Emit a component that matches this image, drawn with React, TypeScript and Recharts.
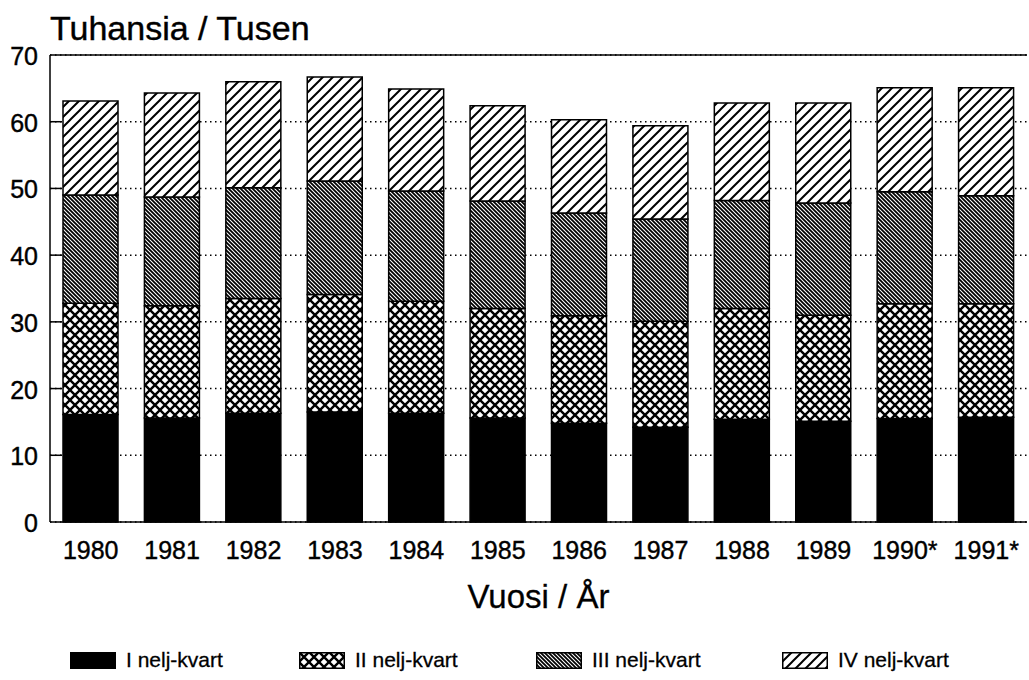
import React from 'react';
import { BarChart, Bar, XAxis, YAxis, CartesianGrid, ReferenceLine, Label } from 'recharts';

const years = ['1980', '1981', '1982', '1983', '1984', '1985', '1986', '1987', '1988', '1989', '1990*', '1991*'];
const q1 = [16.1, 15.6, 16.3, 16.5, 16.3, 15.6, 14.8, 14.2, 15.4, 15.1, 15.5, 15.7];
const q2 = [16.7, 16.8, 17.2, 17.6, 16.8, 16.4, 16.1, 15.9, 16.6, 15.9, 17.2, 17.0];
const q3 = [16.2, 16.3, 16.6, 17.0, 16.5, 16.1, 15.4, 15.3, 16.2, 16.8, 16.8, 16.2];
const q4 = [14.1, 15.6, 15.9, 15.6, 15.3, 14.3, 14.0, 14.0, 14.6, 15.0, 15.6, 16.2];
const yTicks = [0, 10, 20, 30, 40, 50, 60, 70];

const seriesNames = ['I nelj-kvart', 'II nelj-kvart', 'III nelj-kvart', 'IV nelj-kvart'];
const seriesKeys = ['q1', 'q2', 'q3', 'q4'];
const seriesFills = ['#000000', 'url(#patCross)', 'url(#patDense)', 'url(#patDiag)'];

const data = years.map((y, i) => ({ year: y, q1: q1[i], q2: q2[i], q3: q3[i], q4: q4[i] }));

const FONT = '"Liberation Sans", Arial, Helvetica, sans-serif';

const YTick = (props: any) => {
  const { x, y, payload } = props;
  const v = payload.value;
  return (
    <g>
      {v > 0 && v < 70 ? (
        <line x1={x + 12} x2={x + 24} y1={y} y2={y} stroke="#000" strokeWidth={1.5} />
      ) : null}
      <text x={x} y={y} dy={10} textAnchor="end" fontSize={25} fontFamily={FONT} fill="#000" stroke="#000" strokeWidth={0.4}>
        {v}
      </text>
    </g>
  );
};

const Patterns = () => (
  <svg width={0} height={0} style={{ position: 'absolute', left: 0, top: 0 }}>
    <defs>
      <pattern id="patCross" patternUnits="userSpaceOnUse" width={10} height={10}>
        <rect x={0} y={0} width={10} height={10} fill="#fff" />
        <path d="M0,0 L10,10 M10,0 L0,10" stroke="#000" strokeWidth={2.4} />
      </pattern>
      <pattern id="patDense" patternUnits="userSpaceOnUse" width={4} height={4}>
        <rect x={0} y={0} width={4} height={4} fill="#fff" />
        <path d="M0,0 L4,4 M-1,3 L1,5 M3,-1 L5,1" stroke="#000" strokeWidth={1.8} />
      </pattern>
      <pattern id="patDiag" patternUnits="userSpaceOnUse" width={10} height={10}>
        <rect x={0} y={0} width={10} height={10} fill="#fff" />
        <path d="M0,10 L10,0 M-2,2 L2,-2 M8,12 L12,8" stroke="#000" strokeWidth={2} />
      </pattern>
    </defs>
  </svg>
);

export default function App() {
  return (
    <div style={{ position: 'absolute', left: 0, top: 0, width: 1029, height: 680, background: '#fff', fontFamily: FONT }}>
      <Patterns />
      <div style={{ position: 'absolute', left: 50, top: 8, fontSize: 34, lineHeight: '40px', color: '#000', WebkitTextStroke: '0.4px #000' }}>
        Tuhansia / Tusen
      </div>
      <BarChart
        width={1029}
        height={680}
        data={data}
        margin={{ top: 55, right: 2, left: 0, bottom: 58 }}
        barSize={55}
      >
        <CartesianGrid vertical={false} stroke="#000" strokeWidth={1.5} strokeDasharray="1.5 3.5" />
        <XAxis
          dataKey="year"
          height={100}
          tickLine={false}
          tickSize={0}
          tickMargin={19}
          axisLine={{ stroke: '#000', strokeWidth: 1.5 }}
          tick={{ fontSize: 25, fill: '#000', fontFamily: FONT, stroke: '#000', strokeWidth: 0.4 }}
          interval={0}
        >
          <Label value="Vuosi / År" position="insideBottom" offset={14} fontSize={33} fill="#000" fontFamily={FONT} stroke="#000" strokeWidth={0.3} />
        </XAxis>
        <YAxis
          width={50}
          domain={[0, 70]}
          ticks={yTicks}
          tickLine={false}
          tickSize={0}
          tickMargin={12}
          axisLine={{ stroke: '#000', strokeWidth: 1.5 }}
          tick={YTick}
          interval={0}
        />
        <ReferenceLine y={70} stroke="#000" strokeWidth={1.5} />
        {seriesKeys.map((k, i) => (
          <Bar
            key={k}
            dataKey={k}
            name={seriesNames[i]}
            stackId="a"
            fill={seriesFills[i]}
            stroke="#000"
            strokeWidth={1.5}
            isAnimationActive={false}
          />
        ))}
      </BarChart>
      {seriesNames.map((n, i) => {
        const lefts = [70, 299, 536, 782];
        return (
          <div key={n} style={{ position: 'absolute', left: lefts[i], top: 650, height: 20, display: 'flex', alignItems: 'center' }}>
            <svg width={46} height={17} style={{ display: 'block' }}>
              <rect x={0.75} y={0.75} width={44.5} height={15.5} fill={seriesFills[i]} stroke="#000" strokeWidth={1.5} />
            </svg>
            <span style={{ marginLeft: 10, fontSize: 21, lineHeight: '20px', color: '#000', whiteSpace: 'nowrap', WebkitTextStroke: '0.3px #000' }}>{n}</span>
          </div>
        );
      })}
    </div>
  );
}
